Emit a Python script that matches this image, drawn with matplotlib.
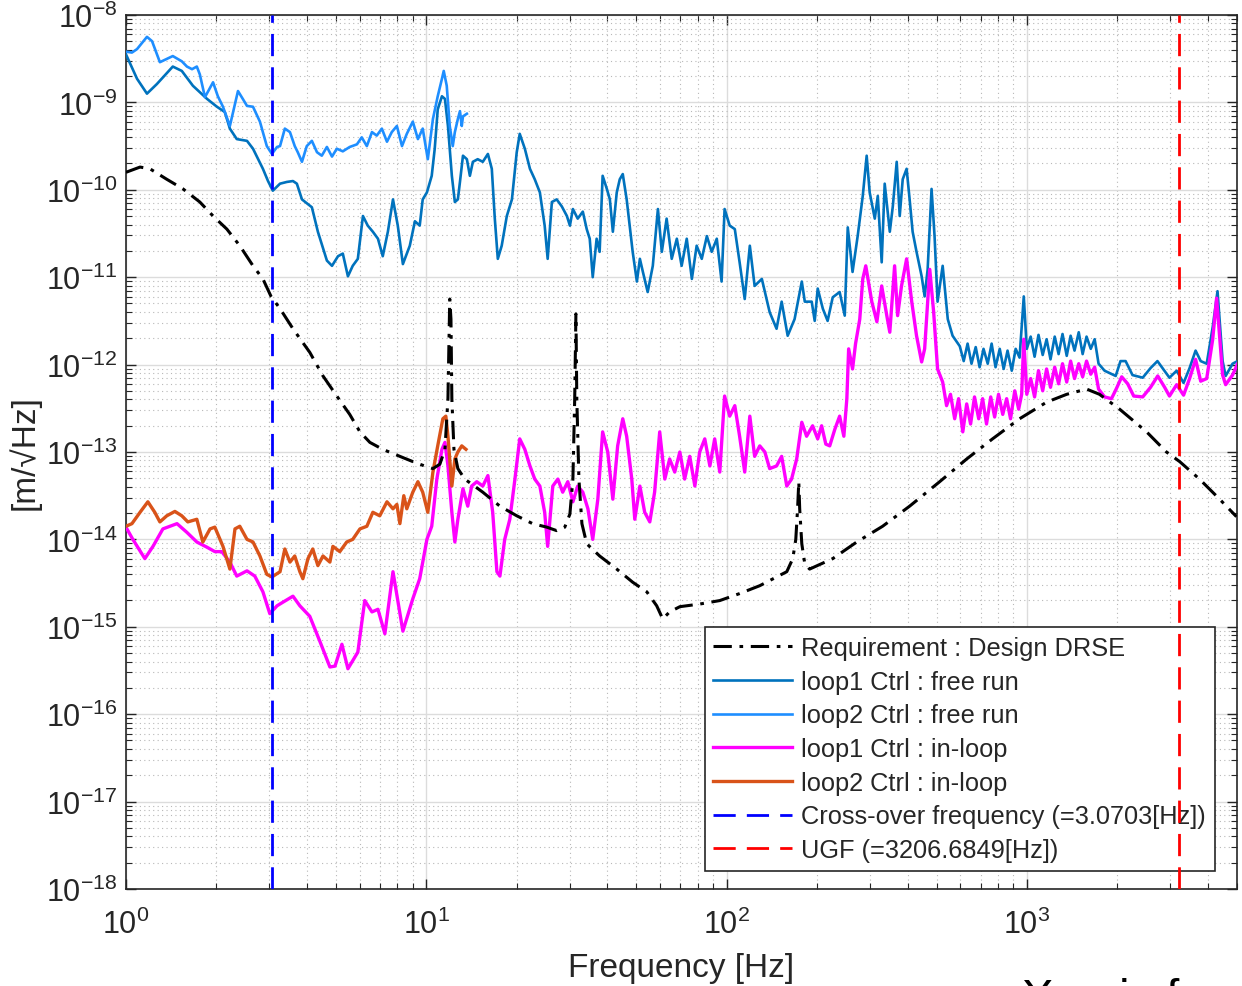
import numpy as np
import matplotlib.pyplot as plt
from matplotlib.ticker import LogLocator, NullFormatter

plt.rcParams['font.family'] = ['Liberation Sans', 'DejaVu Sans']
plt.rcParams['mathtext.fontset'] = 'custom'
plt.rcParams['mathtext.rm'] = 'Liberation Sans'
plt.rcParams['mathtext.it'] = 'Liberation Sans:italic'
plt.rcParams['mathtext.bf'] = 'Liberation Sans:bold'
plt.rcParams['axes.unicode_minus'] = False

# all spectra: log10(frequency [Hz]) and log10(ASD [m/sqrt(Hz)])
req_logf = [0.000, 0.047, 0.080, 0.136, 0.190, 0.246, 0.290, 0.336, 0.379, 0.423, 0.456, 0.483,
            0.513, 0.556, 0.612, 0.656, 0.702, 0.745, 0.779, 0.812, 0.855, 0.912, 0.955, 1.002,
            1.022, 1.045, 1.062, 1.072, 1.078, 1.082, 1.085, 1.092, 1.105, 1.128, 1.188, 1.245,
            1.301, 1.354, 1.401, 1.434, 1.461, 1.478, 1.488, 1.494, 1.498, 1.501, 1.508, 1.518,
            1.534, 1.577, 1.634, 1.687, 1.734, 1.767, 1.787, 1.810, 1.844, 1.910, 1.977, 2.043,
            2.110, 2.166, 2.200, 2.220, 2.230, 2.236, 2.240, 2.243, 2.250, 2.260, 2.276, 2.353,
            2.433, 2.519, 2.609, 2.709, 2.799, 2.885, 2.975, 3.065, 3.132, 3.198, 3.241, 3.308,
            3.398, 3.464, 3.508, 3.574, 3.641, 3.697]
req_logasd = [-9.80, -9.74, -9.76, -9.88, -9.99, -10.14, -10.30, -10.45, -10.64, -10.87, -11.02, -11.22,
              -11.36, -11.59, -11.86, -12.13, -12.36, -12.57, -12.77, -12.89, -12.97, -13.05, -13.11, -13.17,
              -13.19, -13.14, -12.97, -12.39, -11.25, -11.48, -12.39, -12.97, -13.19, -13.31, -13.46, -13.62,
              -13.73, -13.82, -13.86, -13.90, -13.86, -13.71, -13.31, -12.39, -11.42, -12.39, -13.31, -13.82,
              -14.05, -14.19, -14.34, -14.49, -14.60, -14.76, -14.91, -14.83, -14.77, -14.74, -14.70, -14.62,
              -14.53, -14.43, -14.37, -14.22, -14.00, -13.65, -13.34, -13.65, -14.05, -14.28, -14.34, -14.22,
              -14.03, -13.85, -13.62, -13.34, -13.08, -12.85, -12.62, -12.43, -12.34, -12.28, -12.34, -12.51,
              -12.77, -13.00, -13.11, -13.31, -13.54, -13.74]

free1_logf = [0.000, 0.037, 0.070, 0.103, 0.156, 0.186, 0.223, 0.270, 0.303, 0.329, 0.346, 0.369,
              0.403, 0.423, 0.456, 0.473, 0.489, 0.513, 0.536, 0.556, 0.569, 0.586, 0.619, 0.639,
              0.669, 0.686, 0.706, 0.722, 0.739, 0.755, 0.772, 0.789, 0.805, 0.822, 0.839, 0.855,
              0.872, 0.889, 0.905, 0.922, 0.945, 0.962, 0.978, 0.988, 1.002, 1.018, 1.028, 1.038,
              1.052, 1.062, 1.072, 1.085, 1.095, 1.105, 1.112, 1.122, 1.135, 1.145, 1.155, 1.171,
              1.188, 1.205, 1.218, 1.228, 1.238, 1.251, 1.268, 1.285, 1.301, 1.311, 1.328, 1.345,
              1.361, 1.378, 1.394, 1.404, 1.418, 1.434, 1.451, 1.468, 1.478, 1.488, 1.504, 1.521,
              1.534, 1.544, 1.554, 1.567, 1.577, 1.587, 1.601, 1.611, 1.621, 1.634, 1.644, 1.654,
              1.667, 1.677, 1.687, 1.701, 1.711, 1.721, 1.737, 1.754, 1.771, 1.784, 1.800, 1.817,
              1.834, 1.850, 1.867, 1.884, 1.900, 1.917, 1.934, 1.950, 1.967, 1.983, 1.993, 2.010,
              2.027, 2.043, 2.060, 2.077, 2.093, 2.117, 2.143, 2.166, 2.183, 2.203, 2.226, 2.250,
              2.260, 2.283, 2.293, 2.303, 2.320, 2.336, 2.353, 2.376, 2.393, 2.403, 2.419, 2.436,
              2.453, 2.466, 2.476, 2.493, 2.503, 2.516, 2.526, 2.543, 2.553, 2.566, 2.576, 2.586,
              2.599, 2.609, 2.619, 2.632, 2.649, 2.659, 2.669, 2.682, 2.692, 2.702, 2.719, 2.736,
              2.752, 2.776, 2.789, 2.802, 2.815, 2.829, 2.842, 2.855, 2.869, 2.882, 2.895, 2.909,
              2.922, 2.935, 2.949, 2.962, 2.975, 2.989, 2.999, 3.012, 3.025, 3.038, 3.052, 3.065,
              3.078, 3.092, 3.105, 3.118, 3.132, 3.145, 3.158, 3.172, 3.185, 3.198, 3.212, 3.225,
              3.238, 3.258, 3.295, 3.311, 3.328, 3.351, 3.385, 3.411, 3.434, 3.451, 3.474, 3.498,
              3.521, 3.541, 3.561, 3.578, 3.598, 3.618, 3.634, 3.651, 3.661, 3.684, 3.701]
free1_logasd = [-8.45, -8.73, -8.90, -8.79, -8.59, -8.64, -8.81, -8.96, -9.05, -9.11, -9.30, -9.42,
                -9.44, -9.53, -9.76, -9.90, -10.01, -9.93, -9.91, -9.90, -9.93, -10.11, -10.20, -10.48,
                -10.81, -10.87, -10.76, -10.73, -10.99, -10.87, -10.79, -10.30, -10.41, -10.48, -10.56, -10.76,
                -10.48, -10.11, -10.41, -10.85, -10.64, -10.36, -10.41, -10.11, -10.03, -9.84, -9.53, -9.08,
                -8.93, -8.96, -9.27, -9.84, -10.14, -10.11, -9.91, -9.61, -9.65, -9.84, -9.68, -9.65,
                -9.68, -9.59, -9.76, -10.33, -10.79, -10.64, -10.30, -10.11, -9.57, -9.36, -9.53, -9.76,
                -9.88, -10.03, -10.41, -10.79, -10.14, -10.11, -10.19, -10.30, -10.41, -10.22, -10.33, -10.25,
                -10.45, -10.56, -11.00, -10.56, -10.71, -9.84, -9.99, -10.11, -10.48, -10.03, -9.88, -9.82,
                -10.11, -10.41, -10.71, -11.05, -10.79, -10.94, -11.17, -10.87, -10.22, -10.71, -10.33, -10.79,
                -10.56, -10.87, -10.56, -11.02, -10.64, -10.79, -10.53, -10.71, -10.56, -11.05, -10.22, -10.41,
                -10.45, -10.83, -11.25, -10.64, -11.10, -11.02, -11.40, -11.59, -11.28, -11.67, -11.48, -11.05,
                -11.28, -11.28, -11.50, -11.13, -11.36, -11.50, -11.23, -11.17, -11.44, -10.43, -10.94, -10.53,
                -10.07, -9.61, -10.03, -10.33, -10.07, -10.83, -9.93, -10.48, -10.19, -9.68, -10.30, -9.88,
                -9.76, -10.11, -10.48, -10.71, -10.99, -11.22, -10.91, -9.99, -10.53, -11.28, -10.87, -11.48,
                -11.67, -11.79, -11.96, -11.76, -11.99, -11.80, -12.03, -11.82, -11.99, -11.76, -12.03, -11.82,
                -12.05, -11.84, -12.07, -11.82, -11.92, -11.22, -11.82, -11.68, -11.91, -11.66, -11.89, -11.71,
                -11.94, -11.68, -11.88, -11.65, -11.90, -11.67, -11.84, -11.63, -11.88, -11.68, -11.82, -11.71,
                -11.99, -12.07, -12.13, -11.96, -11.96, -12.12, -12.15, -12.04, -11.96, -12.04, -12.15, -12.07,
                -12.21, -12.04, -11.84, -11.96, -11.99, -11.57, -11.16, -11.96, -12.13, -11.99, -11.96]

free2_logf = [0.000, 0.020, 0.037, 0.070, 0.087, 0.113, 0.156, 0.186, 0.203, 0.220, 0.236, 0.246,
              0.263, 0.290, 0.306, 0.323, 0.346, 0.373, 0.389, 0.403, 0.423, 0.446, 0.469, 0.486,
              0.503, 0.513, 0.529, 0.546, 0.562, 0.572, 0.586, 0.602, 0.619, 0.636, 0.652, 0.669,
              0.686, 0.702, 0.722, 0.745, 0.769, 0.785, 0.802, 0.819, 0.835, 0.852, 0.869, 0.885,
              0.902, 0.919, 0.935, 0.955, 0.972, 0.988, 1.005, 1.022, 1.038, 1.052, 1.058, 1.068,
              1.078, 1.088, 1.095, 1.105, 1.112, 1.118, 1.122, 1.135]
free2_logasd = [-8.42, -8.43, -8.39, -8.25, -8.30, -8.54, -8.47, -8.53, -8.59, -8.62, -8.59, -8.68,
                -8.94, -8.77, -8.93, -9.05, -9.27, -8.87, -8.96, -9.04, -9.05, -9.22, -9.50, -9.59,
                -9.51, -9.50, -9.30, -9.34, -9.50, -9.57, -9.68, -9.50, -9.44, -9.57, -9.61, -9.51,
                -9.62, -9.53, -9.56, -9.51, -9.48, -9.40, -9.50, -9.34, -9.38, -9.30, -9.45, -9.34,
                -9.27, -9.50, -9.36, -9.22, -9.42, -9.30, -9.65, -9.19, -8.93, -8.73, -8.64, -8.81,
                -9.27, -9.50, -9.34, -9.19, -9.10, -9.27, -9.16, -9.13]

inloop1_logf = [0.000, 0.023, 0.063, 0.090, 0.123, 0.170, 0.203, 0.236, 0.270, 0.296, 0.319, 0.346,
                0.369, 0.403, 0.429, 0.456, 0.479, 0.503, 0.522, 0.556, 0.579, 0.612, 0.646, 0.679,
                0.696, 0.719, 0.739, 0.772, 0.795, 0.819, 0.839, 0.862, 0.889, 0.922, 0.955, 0.978,
                1.002, 1.018, 1.035, 1.052, 1.062, 1.072, 1.085, 1.095, 1.105, 1.122, 1.138, 1.151,
                1.168, 1.188, 1.205, 1.221, 1.235, 1.245, 1.261, 1.278, 1.295, 1.311, 1.328, 1.345,
                1.361, 1.378, 1.394, 1.404, 1.421, 1.438, 1.454, 1.471, 1.488, 1.504, 1.521, 1.538,
                1.554, 1.571, 1.587, 1.604, 1.621, 1.637, 1.654, 1.667, 1.684, 1.694, 1.711, 1.727,
                1.744, 1.760, 1.777, 1.794, 1.810, 1.827, 1.844, 1.860, 1.877, 1.894, 1.910, 1.927,
                1.944, 1.960, 1.977, 1.993, 2.010, 2.027, 2.043, 2.060, 2.077, 2.093, 2.110, 2.127,
                2.143, 2.166, 2.183, 2.200, 2.216, 2.233, 2.250, 2.266, 2.286, 2.303, 2.316, 2.330,
                2.343, 2.360, 2.376, 2.390, 2.400, 2.406, 2.419, 2.429, 2.443, 2.453, 2.463, 2.483,
                2.500, 2.516, 2.533, 2.543, 2.559, 2.569, 2.582, 2.599, 2.616, 2.632, 2.649, 2.659,
                2.676, 2.689, 2.702, 2.719, 2.732, 2.745, 2.759, 2.772, 2.786, 2.799, 2.812, 2.825,
                2.839, 2.852, 2.865, 2.879, 2.892, 2.905, 2.919, 2.932, 2.945, 2.959, 2.972, 2.982,
                2.989, 2.999, 3.012, 3.025, 3.038, 3.052, 3.065, 3.078, 3.092, 3.105, 3.118, 3.132,
                3.145, 3.158, 3.172, 3.185, 3.198, 3.212, 3.225, 3.238, 3.258, 3.281, 3.298, 3.315,
                3.335, 3.355, 3.385, 3.411, 3.435, 3.458, 3.474, 3.498, 3.521, 3.541, 3.561, 3.578,
                3.598, 3.618, 3.631, 3.651, 3.661, 3.684, 3.701]
inloop1_logasd = [-13.86, -14.00, -14.22, -14.08, -13.88, -13.82, -13.92, -14.03, -14.09, -14.14, -14.14, -14.26,
                  -14.42, -14.36, -14.42, -14.60, -14.85, -14.76, -14.72, -14.65, -14.76, -14.88, -15.17, -15.46,
                  -15.45, -15.20, -15.48, -15.29, -14.70, -14.83, -14.80, -15.08, -14.37, -15.05, -14.68, -14.45,
                  -14.00, -13.85, -13.31, -12.97, -12.89, -13.16, -13.69, -14.03, -13.77, -13.42, -13.62, -13.39,
                  -13.34, -13.39, -13.27, -13.69, -14.37, -14.42, -14.00, -13.77, -13.31, -12.85, -12.97, -13.16,
                  -13.31, -13.39, -13.69, -14.08, -13.39, -13.31, -13.46, -13.34, -13.57, -13.39, -13.46, -13.65,
                  -14.00, -13.54, -12.77, -13.00, -13.54, -12.93, -12.62, -12.82, -13.31, -13.77, -13.39, -13.69,
                  -13.80, -13.46, -12.77, -13.31, -13.08, -13.23, -13.00, -13.31, -13.05, -13.39, -13.00, -12.85,
                  -13.16, -12.85, -13.23, -12.36, -12.59, -12.47, -12.82, -13.23, -12.59, -13.05, -12.93, -13.00,
                  -13.19, -13.16, -13.05, -13.39, -13.31, -13.08, -12.66, -12.82, -12.70, -12.85, -12.70, -12.91,
                  -12.93, -12.74, -12.59, -12.82, -12.39, -11.82, -12.05, -11.76, -11.48, -11.02, -10.87, -11.28,
                  -11.51, -11.10, -11.44, -11.63, -10.87, -11.44, -11.10, -10.79, -11.28, -11.67, -11.97, -11.82,
                  -10.91, -11.40, -12.05, -12.20, -12.47, -12.34, -12.62, -12.39, -12.77, -12.45, -12.68, -12.37,
                  -12.62, -12.39, -12.68, -12.37, -12.60, -12.34, -12.57, -12.39, -12.62, -12.30, -12.51, -12.34,
                  -11.71, -12.34, -12.16, -12.37, -12.07, -12.30, -12.05, -12.26, -12.03, -12.22, -11.99, -12.20,
                  -11.96, -12.16, -11.99, -12.14, -11.96, -12.11, -12.03, -12.28, -12.37, -12.39, -12.27, -12.14,
                  -12.22, -12.36, -12.37, -12.26, -12.13, -12.26, -12.36, -12.23, -12.35, -12.16, -11.94, -12.19,
                  -12.16, -11.71, -11.24, -12.12, -12.23, -12.12, -11.99]

inloop2_logf = [0.000, 0.020, 0.047, 0.073, 0.096, 0.113, 0.136, 0.163, 0.186, 0.206, 0.236, 0.256,
                0.280, 0.296, 0.323, 0.346, 0.363, 0.379, 0.403, 0.423, 0.446, 0.469, 0.486, 0.513,
                0.529, 0.546, 0.562, 0.579, 0.589, 0.606, 0.622, 0.639, 0.656, 0.679, 0.689, 0.712,
                0.735, 0.755, 0.779, 0.802, 0.822, 0.845, 0.869, 0.889, 0.902, 0.912, 0.925, 0.935,
                0.955, 0.972, 0.988, 1.005, 1.022, 1.038, 1.055, 1.065, 1.072, 1.085, 1.095, 1.105,
                1.118, 1.132]
inloop2_logasd = [-13.85, -13.82, -13.69, -13.57, -13.69, -13.80, -13.73, -13.68, -13.73, -13.80, -13.77, -14.03,
                  -13.88, -13.86, -14.08, -14.34, -13.88, -13.85, -14.00, -14.03, -14.19, -14.40, -14.43, -14.37,
                  -14.11, -14.26, -14.19, -14.37, -14.45, -14.22, -14.11, -14.30, -14.19, -14.26, -14.08, -14.14,
                  -14.03, -14.00, -13.88, -13.85, -13.69, -13.73, -13.57, -13.65, -13.60, -13.82, -13.50, -13.65,
                  -13.46, -13.34, -13.46, -13.69, -13.23, -12.93, -12.62, -12.59, -12.82, -13.39, -13.08, -13.00,
                  -12.93, -12.97]

f_cross = 3.0703
f_ugf = 3206.6849

fig = plt.figure(figsize=(12.42, 9.87), dpi=100)
ax = fig.add_axes([0.1014, 0.0983, 0.8946, 0.8855])

dashdot = (0, (6, 2.5, 1.2, 2.5))
dashed = (0, (8, 4))

ax.plot(10 ** np.array(req_logf), 10 ** np.array(req_logasd), color='k', lw=2.2,
        ls=dashdot, label='Requirement : Design DRSE', zorder=5)
ax.plot(10 ** np.array(free1_logf), 10 ** np.array(free1_logasd), color='#0072BD', lw=1.9,
        label='loop1 Ctrl : free run', zorder=3)
ax.plot(10 ** np.array(free2_logf), 10 ** np.array(free2_logasd), color='#1E8EFF', lw=1.9,
        label='loop2 Ctrl : free run', zorder=3)
ax.plot(10 ** np.array(inloop1_logf), 10 ** np.array(inloop1_logasd), color='#FF00FF', lw=2.4,
        label='loop1 Ctrl : in-loop', zorder=4)
ax.plot(10 ** np.array(inloop2_logf), 10 ** np.array(inloop2_logasd), color='#D95319', lw=2.4,
        label='loop2 Ctrl : in-loop', zorder=4)
ax.axvline(f_cross, color='#0000FF', lw=2, ls=dashed, zorder=6,
           label='Cross-over frequency (=3.0703[Hz])')
ax.axvline(f_ugf, color='#FF0000', lw=2, ls=dashed, zorder=6,
           label='UGF (=3206.6849[Hz])')

ax.set_xscale('log')
ax.set_yscale('log')
ax.set_xlim(1, 5000)
ax.set_ylim(1e-18, 1e-8)
ax.set_yticks([10.0 ** k for k in range(-18, -7)])
ax.set_xticks([1, 10, 100, 1000])
ax.xaxis.set_minor_locator(LogLocator(base=10, subs=np.arange(2, 10), numticks=100))
ax.yaxis.set_minor_locator(LogLocator(base=10, subs=np.arange(2, 10), numticks=100))
ax.xaxis.set_minor_formatter(NullFormatter())
ax.yaxis.set_minor_formatter(NullFormatter())

ax.grid(True, which='major', color='#dcdcdc', lw=1.0, zorder=0)
ax.grid(True, which='minor', color='#b8b8b8', lw=0.8, ls=(0, (1, 3)), zorder=0)
ax.set_axisbelow(True)

txt = '#262626'
ax.tick_params(which='both', direction='in', top=True, right=True, colors=txt,
               labelsize=22)
ax.tick_params(which='major', length=7, width=1)
ax.tick_params(which='minor', length=4, width=0.8)
ax.tick_params(axis='x', pad=14)
ax.tick_params(axis='y', pad=6)
for s in ax.spines.values():
    s.set_color(txt)
    s.set_linewidth(1.2)

ax.set_xlabel('Frequency [Hz]', fontsize=24, color=txt, labelpad=9)
ax.set_ylabel('[m/\u221aHz]', fontsize=24, color=txt, labelpad=4)

leg = ax.legend(loc='lower right', bbox_to_anchor=(0.980, 0.0206), borderaxespad=0,
                fontsize=18.3, frameon=True, fancybox=False, framealpha=1,
                edgecolor=txt, handlelength=3.1, handletextpad=0.35,
                labelspacing=0.38, borderpad=0.35)
leg.get_frame().set_linewidth(1.2)
for t in leg.get_texts():
    t.set_color(txt)

fig.text(0.823, -0.025, 'X-axis f', fontsize=34, color='k', va='baseline')

fig.savefig('out.png', dpi=100)
